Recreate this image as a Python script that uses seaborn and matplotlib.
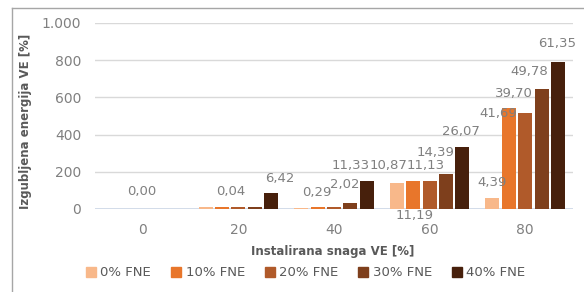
import numpy as np
import pandas as pd
import matplotlib.pyplot as plt
import seaborn as sns
from matplotlib.lines import Line2D
from matplotlib.ticker import FuncFormatter

# installed RES power [%] and share of flexible energy (FNE)
snaga = ['0', '20', '40', '60', '80']
serije = ['0% FNE', '10% FNE', '20% FNE', '30% FNE', '40% FNE']

fne_0 = [0, 12, 8, 142, 59]
fne_10 = [0, 12, 10, 148, 544]
fne_20 = [0, 12, 10, 148, 514]
fne_30 = [0, 12, 31, 189, 647]
fne_40 = [0, 85, 148, 333, 791]

# data labels shown on the chart (None = no label)
oznake_0 = [None, None, None, '10,87', '4,39']
oznake_10 = [None, '0,04', '0,29', '11,19', '41,69']
oznake_20 = ['0,00', None, None, '11,13', '39,70']
oznake_30 = [None, None, '2,02', '14,39', '49,78']
oznake_40 = [None, '6,42', '11,33', '26,07', '61,35']

boje = ['#F8B88A', '#E8762B', '#B05A2A', '#7E3F1C', '#47200C']

# label offsets from bar top, in pixels
pomaci = [
    [None, None, None, (-8, 17), (0, 16)],
    [None, (9, 15), (-1, 15), (1, -34), (-11, -6)],
    [(-1, 17), None, None, (-4, 16), (-11, 20)],
    [None, None, (-6, 19), (-11, 21), (-12, 17)],
    [None, (9, 15), (-16, 16), (-2, 16), (-1, 18)],
]

vrijednosti = [fne_0, fne_10, fne_20, fne_30, fne_40]
oznake = [oznake_0, oznake_10, oznake_20, oznake_30, oznake_40]

df = pd.DataFrame({
    'snaga': np.tile(snaga, len(serije)),
    'serija': np.repeat(serije, len(snaga)),
    'energija': np.concatenate(vrijednosti),
})

fig = plt.figure(figsize=(5.84, 2.92), dpi=100)
ax = fig.add_axes([95 / 584, 1 - 209 / 292, 478 / 584, 186 / 292])

sns.barplot(data=df, x='snaga', y='energija', hue='serija', order=snaga,
            hue_order=serije, palette=boje, width=0.86, gap=0.15,
            saturation=1, legend=False, ax=ax)

ax.set_ylim(0, 1000)
ax.set_yticks([0, 200, 400, 600, 800, 1000])
ax.yaxis.set_major_formatter(FuncFormatter(lambda v, p: f'{int(v):,}'.replace(',', '.')))
ax.set_xlabel('')
ax.set_ylabel('')
for s in ax.spines.values():
    s.set_visible(False)
ax.yaxis.grid(True, color='#d9d9d9', lw=1)
ax.set_axisbelow(True)
ax.axhline(0, color='#c9d7ea', lw=1.2, zorder=0.5)
ax.tick_params(length=0, labelsize=10, labelcolor='#808080')
ax.tick_params(axis='y', pad=10)
ax.tick_params(axis='x', pad=10)

for cont, lab, off in zip(ax.containers, oznake, pomaci):
    for bar, t, o in zip(cont, lab, off):
        if t is None:
            continue
        x = bar.get_x() + bar.get_width() / 2
        y = bar.get_height()
        ax.annotate(t, (x, y), xytext=o, textcoords='offset pixels',
                    ha='center', va='center', fontsize=9.5, color='#808080')

fig.text(333 / 584, 1 - 251 / 292, 'Instalirana snaga VE [%]', ha='center', va='center',
         fontsize=8.5, fontweight='bold', color='#595959')
fig.text(26 / 584, 1 - 121 / 292, 'Izgubljena energija VE [%]', ha='center', va='center',
         rotation=90, fontsize=8.5, fontweight='bold', color='#595959')

handles = [Line2D([], [], marker='s', ls='', color=c, markersize=6.5) for c in boje]
fig.legend(handles, serije, loc='center', bbox_to_anchor=(305 / 584, 1 - 273 / 292),
           ncol=5, frameon=False, fontsize=9.5, labelcolor='#595959',
           handletextpad=0.2, columnspacing=1.4, handlelength=1)

# chart area border (left and top only)
fig.add_artist(Line2D([12 / 584, 12 / 584], [0, 1 - 8 / 292], transform=fig.transFigure,
                      color='#a6a6a6', lw=1))
fig.add_artist(Line2D([12 / 584, 1], [1 - 8 / 292, 1 - 8 / 292], transform=fig.transFigure,
                      color='#a6a6a6', lw=1))

fig.savefig('out.png', dpi=100)
